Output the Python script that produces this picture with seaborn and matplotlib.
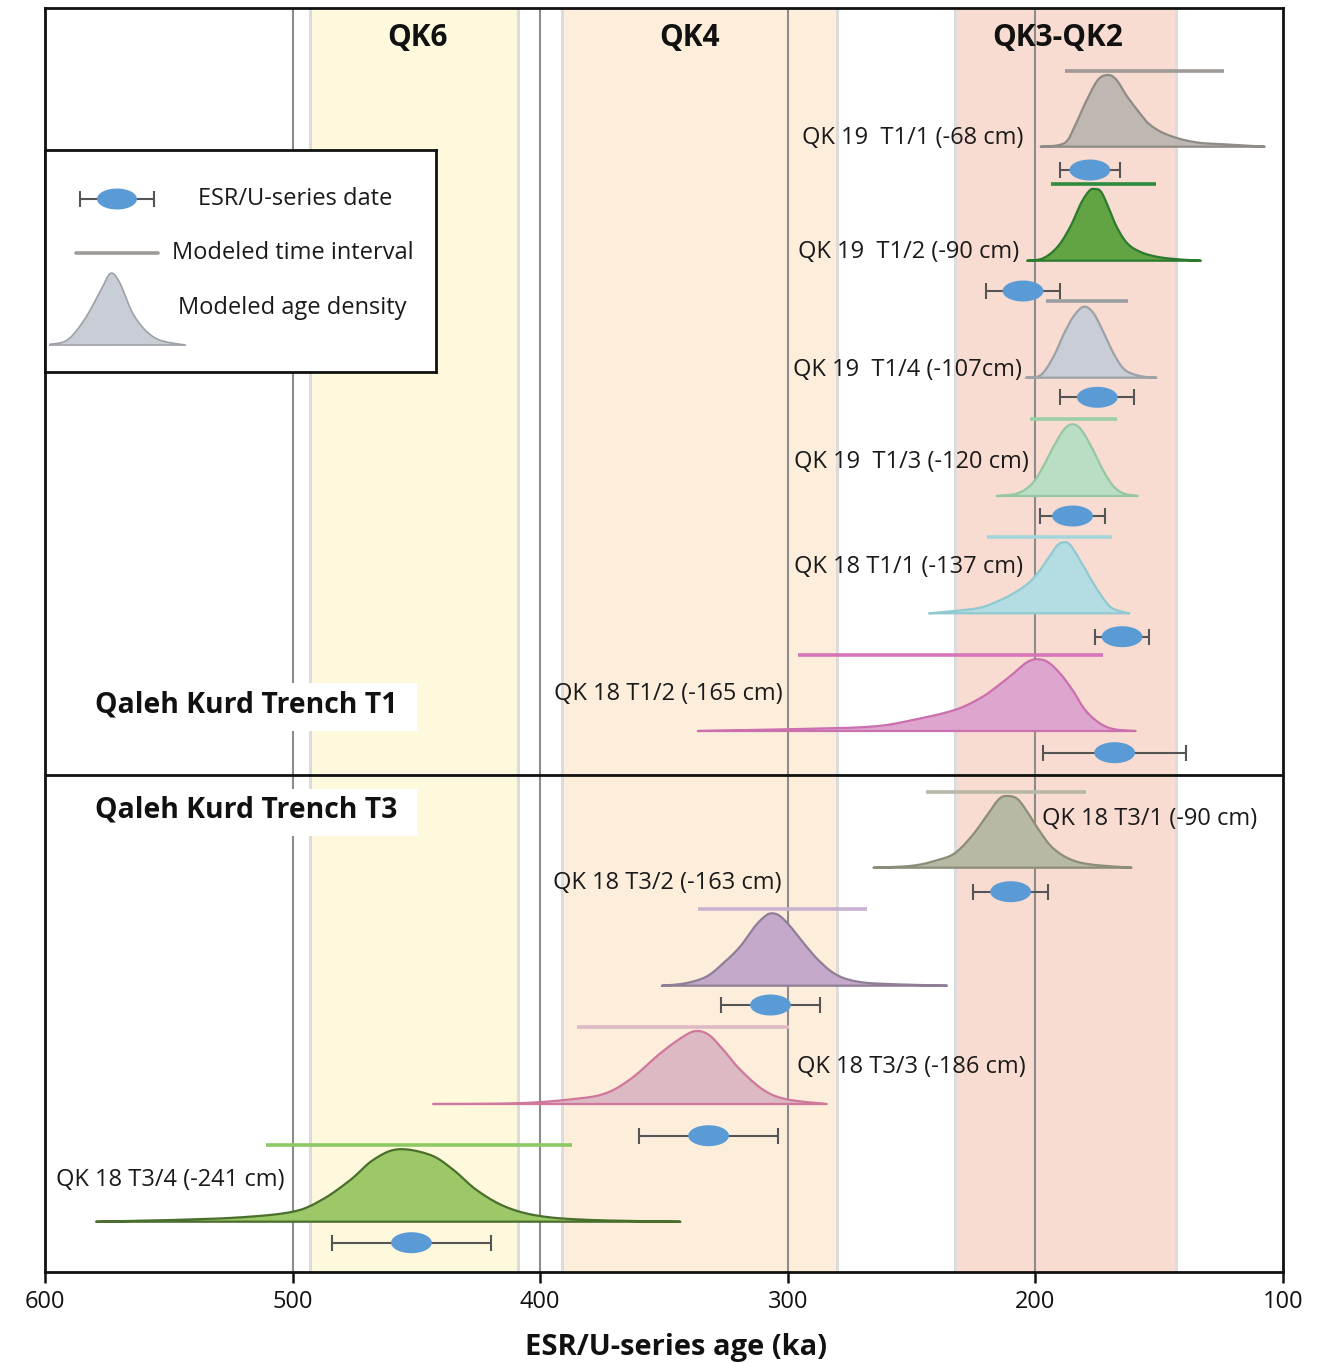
import numpy as np
import pandas as pd
import matplotlib
matplotlib.use("Agg")
import matplotlib.pyplot as plt
import seaborn as sns
from matplotlib.patches import Ellipse

# ---------------- data ----------------
sample_labels = [
    "QK 19  T1/1 (-68 cm)",
    "QK 19  T1/2 (-90 cm)",
    "QK 19  T1/4 (-107cm)",
    "QK 19  T1/3 (-120 cm)",
    "QK 18 T1/1 (-137 cm)",
    "QK 18 T1/2 (-165 cm)",
    "QK 18 T3/1 (-90 cm)",
    "QK 18 T3/2 (-163 cm)",
    "QK 18 T3/3 (-186 cm)",
    "QK 18 T3/4 (-241 cm)",
]

# modeled age density curves: age (ka) and relative density (arbitrary units)
dens_age_1 = [197.8, 188.4, 184.2, 179.9, 174.8, 170.6, 167.2, 162.9, 157.8, 154.4, 149.4, 142.5, 134.0, 123.8, 107.4]
dens_val_1 = [0, 3.4, 20, 43.4, 66.7, 71.7, 66.7, 50, 33.4, 23.4, 15, 8.4, 4, 2.4, 0]
dens_age_2 = [203.2, 196.9, 191.0, 185.9, 181.6, 178.2, 176.0, 173.5, 170.6, 167.2, 162.9, 157.8, 151.1, 142.5, 133.2]
dens_val_2 = [0, 2.4, 14, 34, 57.4, 70, 71.7, 69, 54, 34, 17.4, 9, 4, 1.4, 0]
dens_age_3 = [203.7, 197.8, 192.7, 188.4, 184.2, 180.3, 176.5, 172.3, 168.1, 163.8, 157.8, 151.1]
dens_val_3 = [0, 2.7, 21, 44.4, 62.7, 71, 64.4, 44.4, 22.7, 7.7, 1.7, 0]
dens_age_4 = [215.6, 207.1, 201.2, 196.9, 192.7, 188.4, 185.0, 181.6, 177.4, 173.1, 168.9, 164.6, 158.7]
dens_val_4 = [0, 2.7, 12.7, 29.3, 49.3, 66.7, 71.7, 66.7, 49.3, 27.7, 11, 2.7, 0]
dens_age_5 = [242.8, 232.6, 222.4, 215.6, 208.8, 202.9, 198.6, 194.4, 191.0, 188.4, 185.9, 181.6, 177.4, 173.1, 168.9, 162.1]
dens_val_5 = [0, 2.3, 5.6, 11.6, 20, 30, 41.6, 56.6, 68.3, 71, 68.3, 51.6, 33.3, 16.6, 5, 0]
dens_age_6 = [336.3, 300.6, 266.6, 249.6, 232.6, 222.4, 215.6, 208.8, 203.7, 199.8, 195.2, 190.1, 185.0, 179.9, 174.0, 168.1, 159.5]
dens_val_6 = [0, 1.7, 4.3, 11, 21, 32.7, 44.3, 57.7, 68.3, 71.7, 69.3, 57.7, 41, 21, 7.7, 1.7, 0]
dens_age_7 = [265.3, 249.6, 239.4, 232.6, 225.9, 219.9, 214.8, 211.2, 207.1, 202.9, 198.6, 193.5, 186.8, 178.2, 161.2]
dens_val_7 = [0, 2, 7.7, 14.4, 31, 51, 68.4, 71.7, 68.4, 54.4, 37.7, 21, 9.4, 3.4, 0]
dens_age_8 = [350.8, 341.4, 332.9, 326.1, 319.3, 313.4, 309.1, 306.4, 303.2, 298.9, 293.0, 287.0, 280.2, 271.7, 259.8, 235.7]
dens_val_8 = [0, 2.4, 9, 22.4, 39, 59, 69.7, 72.4, 69.7, 59, 40.7, 24, 10.7, 4, 1.7, 0]
dens_age_9 = [443.1, 409.5, 386.3, 373.6, 363.1, 351.5, 342.3, 337.0, 331.8, 326.0, 319.1, 309.8, 300.5, 284.3]
dens_val_9 = [0, 0.7, 5, 10.7, 25.7, 50.7, 67.3, 73, 69, 54, 34, 14, 4.7, 0]
dens_age_10 = [579.2, 548.6, 520.8, 499.9, 488.3, 476.7, 467.5, 457.5, 444.3, 435.0, 425.7, 414.1, 400.2, 379.4, 343.4]
dens_val_10 = [0, 1.7, 4.4, 10, 21.7, 41.7, 61.7, 72.4, 66.7, 51.7, 31.7, 15, 5.7, 1.7, 0]

dens_ages = [dens_age_1, dens_age_2, dens_age_3, dens_age_4, dens_age_5,
             dens_age_6, dens_age_7, dens_age_8, dens_age_9, dens_age_10]
dens_vals = [dens_val_1, dens_val_2, dens_val_3, dens_val_4, dens_val_5,
             dens_val_6, dens_val_7, dens_val_8, dens_val_9, dens_val_10]

# modeled time interval (older, younger) in ka
interval_old = [188.0, 193.5, 195.6, 202.0, 219.7, 295.9, 244.2, 336.3, 385.1, 510.8]
interval_young = [123.8, 151.4, 162.6, 167.2, 168.9, 172.8, 179.6, 268.0, 299.4, 387.0]

# ESR/U-series dates (ka) and errors
date_age = [178, 205, 175, 185, 165, 168, 210, 307, 332, 452]
date_err = [12, 15, 15, 13, 11, 29, 15, 20, 28, 32]

# stage bands
band_names = ["QK6", "QK4", "QK3-QK2"]
band_old = [493, 391, 232.5]
band_young = [409, 280, 143.2]

x_ticks = [600, 500, 400, 300, 200, 100]

# legend icon shape (local units)
icon_x = [4.7, 22.3, 39.2, 56, 65.7, 75, 89.7, 110.7, 140.2]
icon_h = [0.7, 5, 25, 55, 71.7, 61.7, 28.3, 6.7, 0]

# ---------------- layout / style ----------------
row_interval_y = [71, 184.3, 301, 419.3, 537, 655, 791.7, 909.3, 1026.7, 1145]
row_base_y = [146.7, 260.7, 377.7, 496, 613.3, 731, 867.7, 985.7, 1104, 1221.7]
row_date_y = [170, 291, 397.3, 516, 636.7, 752.7, 891.7, 1005, 1135.7, 1242.7]
label_pos = [(205, 138, "right"), (206.6, 252, "right"), (205.4, 370, "right"),
             (202.6, 462, "right"), (205, 567, "right"), (302, 694, "right"),
             (197.3, 819, "left"), (302.7, 883, "right"), (296.3, 1067, "left"),
             (503.1, 1180, "right")]
band_label_x = [449.4, 339.5, 190.9]
fill_colors = ["#BFB8B2", "#62A343", "#C9CDD5", "#B9DEC4", "#B3DDE2",
               "#DEA5CF", "#B8B9A4", "#C4A9CA", "#DDB9C4", "#9CC867"]
edge_colors = ["#8F8B87", "#2C7A2F", "#9DA1A8", "#96C6A3", "#90C9D0",
               "#CB6FAE", "#8C8D7A", "#8F7F96", "#D0779C", "#4A6F2D"]
interval_colors = ["#9E9A96", "#2E8B3E", "#9A9DA3", "#9ACFA8", "#A5D5DC",
                   "#D775B8", "#B8B8A8", "#C9B2CF", "#E0B9C7", "#8CC864"]
band_colors = ["#FEF9DD", "#FDEEDC", "#F9DCD1"]
date_color = "#5B9BD5"
whisker_color = "#555555"
txt_color = "#1a1a1a"
FS = 17


def smooth_curve(xs, ys, n=10):
    """Catmull-Rom rendering through the read points (drawing only)."""
    pts = np.column_stack([xs, ys]).astype(float)
    P = np.vstack([pts[0], pts, pts[-1]])
    segs = []
    t = np.linspace(0, 1, n, endpoint=False)[:, None]
    for i in range(1, len(P) - 2):
        p0, p1, p2, p3 = P[i - 1], P[i], P[i + 1], P[i + 2]
        seg = 0.5 * (2 * p1 + (-p0 + p2) * t + (2 * p0 - 5 * p1 + 4 * p2 - p3) * t ** 2
                     + (-p0 + 3 * p1 - 3 * p2 + p3) * t ** 3)
        segs.append(seg)
    segs.append(pts[-1][None])
    out = np.vstack(segs)
    out[:, 1] = np.clip(out[:, 1], 0, None)
    return out[:, 0], out[:, 1]


sns.set_theme(style="white")
plt.rcParams["font.family"] = ["Open Sans", "DejaVu Sans"]

W, H = 1320, 1363
fig = plt.figure(figsize=(W / 100, H / 100), dpi=100)
ax = fig.add_axes([45 / W, 1 - 1272 / H, (1283 - 45) / W, (1272 - 8) / H])
ax.set_xlim(600, 100)
ax.set_ylim(1272, 8)

# bands
for name, o, y, c, lx in zip(band_names, band_old, band_young, band_colors, band_label_x):
    ax.axvspan(o, y, color=c, zorder=0, lw=0)
    for e in (o, y):
        ax.axvline(e, color="#DCDCDC", lw=2.2, zorder=0.5)
    ax.text(lx, 38, name, ha="center", va="center",
            fontsize=21.5, fontweight="bold", color="#111111", zorder=6)

for t in [500, 400, 300, 200]:
    ax.axvline(t, color="#8C8C8C", lw=1.5, zorder=1)

ax.axhline(775, color="#111111", lw=2, zorder=7)

# section labels with white boxes
for txt, y0, y1, yc in [("Qaleh Kurd Trench T1", 683, 731, 705),
                        ("Qaleh Kurd Trench T3", 789, 836, 810)]:
    ax.fill_betweenx([y0, y1], 586, 449.8, color="white", zorder=5, lw=0)
    ax.text(579.8, yc, txt, ha="left", va="center", fontsize=20.4,
            fontweight="bold", color="#111111", zorder=6)

# samples
for i in range(len(sample_labels)):
    base = row_base_y[i]
    sx, sy = smooth_curve(dens_ages[i], dens_vals[i])
    ax.fill(sx, base - sy, color=fill_colors[i], lw=0, zorder=2)
    df = pd.DataFrame({"age": np.r_[sx, sx[::-1]],
                       "y": np.r_[base - sy, np.full(len(sx), base)]})
    sns.lineplot(data=df, x="age", y="y", sort=False, color=edge_colors[i],
                 lw=1.6, ax=ax, zorder=3, estimator=None)
    ax.plot([interval_old[i], interval_young[i]], [row_interval_y[i]] * 2,
            color=interval_colors[i], lw=2.6, zorder=2.5, solid_capstyle="butt")
    ax.errorbar(date_age[i], row_date_y[i], xerr=date_err[i], fmt="none",
                ecolor=whisker_color, elinewidth=1.5, capsize=5.5, capthick=1.5,
                zorder=3)
    ax.add_patch(Ellipse((date_age[i], row_date_y[i]), width=16.5, height=21,
                         facecolor=date_color, edgecolor="none", zorder=4))
    lx, ly, ha = label_pos[i]
    ax.text(lx, ly, sample_labels[i], ha=ha, va="center", fontsize=FS,
            color=txt_color, zorder=6)

ax.set_xticks(x_ticks)
ax.set_xticklabels([str(t) for t in x_ticks])
ax.set_yticks([])
ax.tick_params(axis="x", direction="out", length=8, width=1.8, colors="#111111",
               labelsize=17, pad=5, bottom=True)
for s in ax.spines.values():
    s.set_color("#111111")
    s.set_linewidth(2)
    s.set_visible(True)
ax.set_xlabel("ESR/U-series age (ka)", fontsize=21, fontweight="bold",
              color="#111111")
ax.xaxis.set_label_coords(0.51, -0.048)
ax.set_ylabel("")

# legend box (local pixel coordinates)
leg = fig.add_axes([45 / W, 1 - 372 / H, (436 - 45) / W, (372 - 150) / H])
leg.set_xlim(0, 391)
leg.set_ylim(222, 0)
leg.set_xticks([])
leg.set_yticks([])
leg.set_facecolor("white")
for s in leg.spines.values():
    s.set_color("#111111")
    s.set_linewidth(2)
    s.set_visible(True)
leg.errorbar(72, 49, xerr=37, fmt="none", ecolor=whisker_color, elinewidth=1.5,
             capsize=5.5, capthick=1.5)
leg.add_patch(Ellipse((72, 49), width=40, height=21, facecolor=date_color,
                      edgecolor="none", zorder=4))
leg.text(153, 49, "ESR/U-series date", ha="left", va="center", fontsize=FS,
         color=txt_color)
leg.plot([31, 113], [103, 103], color="#9E9A96", lw=2.6)
leg.text(127, 103, "Modeled time interval", ha="left", va="center",
         fontsize=FS, color=txt_color)
ix, ih = smooth_curve(icon_x, icon_h)
leg.fill(ix, 195 - ih, color="#C9CDD5", lw=0)
leg.plot(np.r_[ix, ix[::-1]], np.r_[195 - ih, np.full(len(ix), 195)],
         color="#9DA1A8", lw=1.2)
leg.text(133, 158, "Modeled age density", ha="left", va="center",
         fontsize=FS, color=txt_color)

fig.savefig("out.png", dpi=100)
